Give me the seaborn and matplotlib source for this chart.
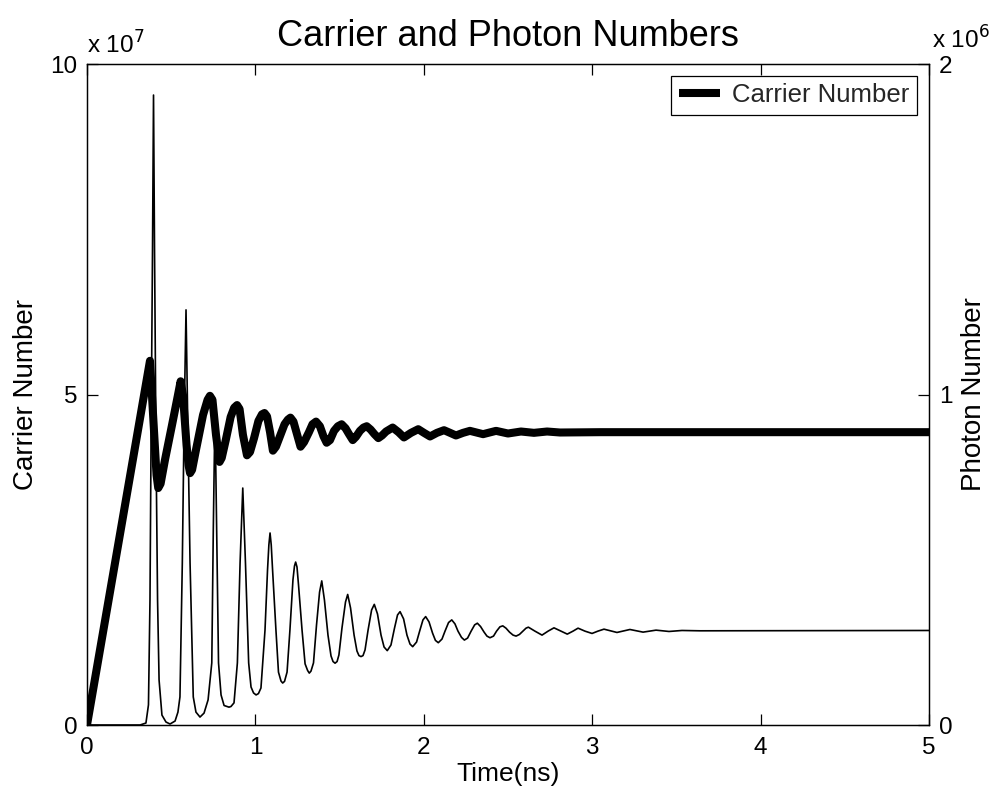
import numpy as np
import pandas as pd
import matplotlib
matplotlib.use("Agg")
import matplotlib.pyplot as plt
import seaborn as sns
from matplotlib.ticker import FuncFormatter, FixedLocator

# ---------------- data ----------------
time_carrier = [0.000, 0.374, 0.401, 0.413, 0.423, 0.437, 0.463, 0.505, 0.540, 0.556,
                0.570, 0.591, 0.603, 0.612, 0.624, 0.647, 0.689, 0.716, 0.730, 0.745,
                0.766, 0.787, 0.800, 0.824, 0.853, 0.874, 0.891, 0.906, 0.926, 0.950,
                0.968, 0.992, 1.018, 1.039, 1.054, 1.069, 1.087, 1.104, 1.122, 1.146,
                1.173, 1.193, 1.208, 1.226, 1.247, 1.268, 1.289, 1.318, 1.339, 1.360,
                1.383, 1.404, 1.423, 1.443, 1.467, 1.490, 1.512, 1.535, 1.556, 1.578,
                1.597, 1.621, 1.642, 1.661, 1.684, 1.707, 1.730, 1.752, 1.776, 1.815,
                1.850, 1.882, 1.924, 1.967, 2.001, 2.037, 2.078, 2.120, 2.156, 2.191,
                2.233, 2.274, 2.352, 2.429, 2.500, 2.577, 2.654, 2.732, 2.809, 3.050,
                5.000]
carrier_e7 = [0.00, 5.51, 4.31, 3.78, 3.585, 3.65, 4.01, 4.54, 4.99, 5.20,
              4.99, 4.24, 3.93, 3.81, 3.86, 4.16, 4.69, 4.92, 4.98, 4.92,
              4.39, 3.98, 4.04, 4.31, 4.66, 4.80, 4.84, 4.78, 4.39, 4.08,
              4.13, 4.34, 4.60, 4.70, 4.72, 4.67, 4.43, 4.15, 4.21, 4.37,
              4.55, 4.62, 4.65, 4.59, 4.40, 4.21, 4.28, 4.43, 4.55, 4.59,
              4.52, 4.37, 4.27, 4.31, 4.45, 4.52, 4.55, 4.49, 4.40, 4.31,
              4.36, 4.45, 4.50, 4.52, 4.47, 4.40, 4.34, 4.38, 4.44, 4.50,
              4.43, 4.35, 4.42, 4.475, 4.42, 4.365, 4.42, 4.46, 4.42, 4.38,
              4.42, 4.45, 4.40, 4.45, 4.41, 4.44, 4.42, 4.44, 4.425, 4.43,
              4.43]

time_photon = [0.000, 0.315, 0.350, 0.365, 0.374, 0.380, 0.389, 0.395, 0.401, 0.410,
               0.419, 0.428, 0.445, 0.469, 0.493, 0.523, 0.540, 0.552, 0.566, 0.576,
               0.588, 0.599, 0.612, 0.631, 0.647, 0.671, 0.695, 0.719, 0.741, 0.750,
               0.760, 0.770, 0.781, 0.796,
               0.814, 0.831, 0.843, 0.855, 0.873,
               0.893, 0.909, 0.925, 0.941, 0.960,
               0.974, 0.989, 1.004, 1.018, 1.033,
               1.057, 1.072, 1.080, 1.087, 1.094, 1.102, 1.122,
               1.137, 1.152, 1.162, 1.173, 1.188,
               1.205, 1.223, 1.232, 1.239, 1.247, 1.256, 1.277,
               1.295, 1.310, 1.320, 1.330, 1.345,
               1.363, 1.381, 1.394, 1.410, 1.431,
               1.449, 1.461, 1.473, 1.485, 1.496,
               1.514, 1.535, 1.548, 1.565, 1.586,
               1.603, 1.615, 1.627, 1.639, 1.651,
               1.669, 1.690, 1.706, 1.725, 1.746,
               1.764, 1.783, 1.805, 1.826, 1.844, 1.859, 1.880, 1.900,
               1.918, 1.934, 1.957, 1.977, 1.995, 2.011, 2.031, 2.052, 2.069, 2.086,
               2.108, 2.126, 2.147, 2.166, 2.185, 2.203, 2.224, 2.241, 2.260, 2.281,
               2.302, 2.318, 2.337, 2.358, 2.375, 2.393, 2.414, 2.432, 2.452, 2.469,
               2.488, 2.509, 2.530, 2.548, 2.568, 2.589, 2.607, 2.621, 2.660, 2.702,
               2.738, 2.773, 2.815, 2.852, 2.886, 2.916, 2.957, 2.999, 3.034, 3.070,
               3.147, 3.224, 3.302, 3.379, 3.456, 3.533, 3.640, 5.000]
photon_e6 = [0.000, 0.000, 0.006, 0.061, 0.378, 0.832, 1.437, 1.906, 1.437, 0.832,
             0.378, 0.136, 0.030, 0.009, 0.003, 0.012, 0.039, 0.085, 0.490, 0.893,
             1.256, 0.893, 0.490, 0.085, 0.039, 0.024, 0.036, 0.076, 0.188, 0.590,
             0.953, 0.590, 0.188, 0.091,
             0.059, 0.056, 0.054, 0.056, 0.067,
             0.188, 0.490, 0.717, 0.490, 0.188,
             0.115, 0.097, 0.091, 0.095, 0.112,
             0.287, 0.469, 0.545, 0.581, 0.545, 0.469, 0.287,
             0.160, 0.133, 0.127, 0.132, 0.160,
             0.287, 0.439, 0.481, 0.493, 0.478, 0.424, 0.287,
             0.185, 0.165, 0.157, 0.163, 0.188,
             0.303, 0.402, 0.436, 0.378, 0.272,
             0.209, 0.192, 0.187, 0.192, 0.212,
             0.293, 0.372, 0.395, 0.354, 0.272,
             0.224, 0.210, 0.207, 0.210, 0.227,
             0.287, 0.348, 0.365, 0.336, 0.272,
             0.236, 0.225, 0.242, 0.293, 0.333, 0.343, 0.321, 0.272,
             0.245, 0.237, 0.251, 0.287, 0.318, 0.328, 0.312, 0.278, 0.256, 0.249,
             0.260, 0.284, 0.310, 0.318, 0.306, 0.284, 0.265, 0.257, 0.263, 0.284,
             0.303, 0.308, 0.298, 0.281, 0.269, 0.264, 0.269, 0.284, 0.297, 0.300,
             0.293, 0.281, 0.272, 0.269, 0.274, 0.284, 0.293, 0.296, 0.284, 0.272,
             0.284, 0.294, 0.284, 0.275, 0.284, 0.293, 0.284, 0.277, 0.284, 0.290,
             0.280, 0.289, 0.281, 0.287, 0.283, 0.286, 0.285, 0.286]

carrier_ticks = [0, 5e7, 10e7]
photon_ticks = [0, 1e6, 2e6]
time_ticks = [0, 1, 2, 3, 4, 5]

df_c = pd.DataFrame({"t": time_carrier, "n": np.array(carrier_e7) * 1e7})
df_p = pd.DataFrame({"t": time_photon, "n": np.array(photon_e6) * 1e6})

# ---------------- styling ----------------
sns.set_theme(style="white")
plt.rcParams["font.family"] = ["Liberation Sans", "DejaVu Sans"]
plt.rcParams["axes.edgecolor"] = "black"
plt.rcParams["axes.linewidth"] = 0.9

fig = plt.figure(figsize=(9.91, 7.94), dpi=100)
ax = fig.add_axes([87 / 991, 1 - 725 / 794, (929 - 87) / 991, (725 - 64) / 794])
ax2 = ax.twinx()

sns.lineplot(data=df_c, x="t", y="n", ax=ax, color="black", linewidth=5.8,
             sort=False, estimator=None, label="Carrier Number",
             solid_joinstyle="round", solid_capstyle="butt")
sns.lineplot(data=df_p, x="t", y="n", ax=ax2, color="black", linewidth=1.2,
             sort=False, estimator=None, legend=False,
             solid_joinstyle="round")

ax.set_xlim(0, 5)
ax.set_ylim(0, 10e7)
ax2.set_ylim(0, 2e6)

ax.xaxis.set_major_locator(FixedLocator(time_ticks))
ax.yaxis.set_major_locator(FixedLocator(carrier_ticks))
ax2.yaxis.set_major_locator(FixedLocator(photon_ticks))
ax.yaxis.set_major_formatter(FuncFormatter(lambda v, p: f"{v / 1e7:g}"))
ax2.yaxis.set_major_formatter(FuncFormatter(lambda v, p: f"{v / 1e6:g}"))
ax.xaxis.set_major_formatter(FuncFormatter(lambda v, p: f"{v:g}"))

for a in (ax, ax2):
    for s in a.spines.values():
        s.set_visible(True)
        s.set_color("black")
        s.set_linewidth(0.9)

ax.tick_params(axis="both", which="major", direction="in", length=8, width=0.9,
               labelsize=17.5, colors="black", top=True, bottom=True, left=True,
               right=False, pad=7)
ax.tick_params(axis="x", pad=9)
ax2.tick_params(axis="y", direction="in", length=8, width=0.9, labelsize=17.5,
                colors="black", pad=7)

ax.set_xlabel("Time(ns)", fontsize=19, color="black", labelpad=2)
ax.set_ylabel("Carrier Number", fontsize=20, color="black", labelpad=8)
ax2.set_ylabel("Photon Number", fontsize=20, color="black", labelpad=6)
ax.set_title("Carrier and Photon Numbers", fontsize=26, color="black", pad=13)

# MATLAB-style exponent labels
ax.text(0.0, 1.008, r"x 10$^{7}$", transform=ax.transAxes, fontsize=17.5,
        ha="left", va="bottom", color="black")
ax2.text(1.003, 1.015, r"x 10$^{6}$", transform=ax2.transAxes, fontsize=17.5,
         ha="left", va="bottom", color="black")

leg = ax.legend(loc="upper right", fontsize=18.5, frameon=True, fancybox=False,
                edgecolor="black", borderaxespad=0.45, handlelength=1.6,
                borderpad=0.3, handletextpad=0.5)
leg.get_frame().set_linewidth(0.9)
leg.get_frame().set_facecolor("white")
leg.get_frame().set_alpha(1)
leg.set_zorder(10)
ax.set_zorder(ax2.get_zorder() + 1)
ax.patch.set_visible(False)

fig.savefig("out.png", dpi=100, facecolor="white")
